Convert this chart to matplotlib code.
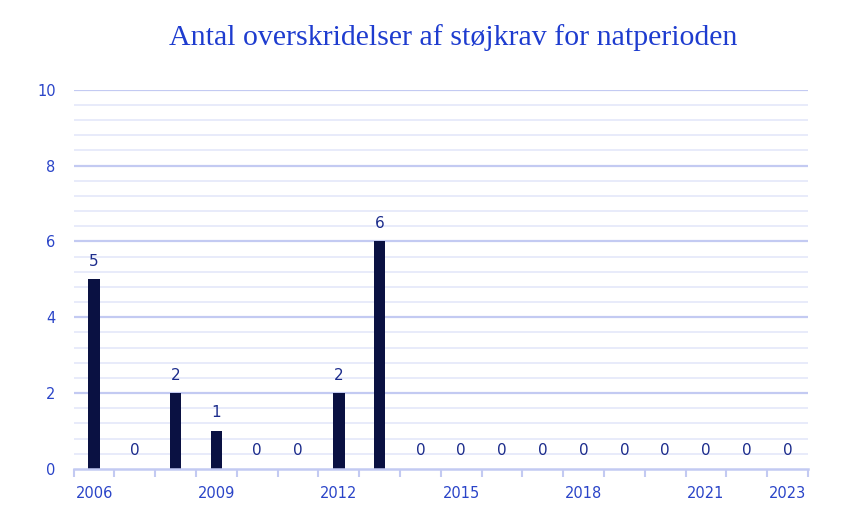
import matplotlib
matplotlib.use("Agg")
import matplotlib.pyplot as plt
import numpy as np

years = list(range(2006, 2024))
values = [5, 0, 2, 1, 0, 0, 2, 6, 0, 0, 0, 0, 0, 0, 0, 0, 0, 0]
shown_years = [2006, 2009, 2012, 2015, 2018, 2021, 2023]
title = "Antal overskridelser af støjkrav for natperioden"

fig = plt.figure(figsize=(8.67, 5.29), dpi=100)
ax = fig.add_axes([0.085, 0.1134, 0.847, 0.717])

x = np.arange(len(years))
ax.bar(x, values, width=0.28, color="#0a1142", zorder=3)
for xi, v in zip(x, values):
    ax.text(xi, v + 0.28, str(v), ha="center", va="bottom", fontsize=11,
            color="#1c2c8c", family="DejaVu Sans")

ax.set_xlim(-0.5, len(years) - 0.5)
ax.set_ylim(0, 10)

# gridlines
for yv in np.arange(0.4, 10.01, 0.4):
    major = abs(yv / 2 - round(yv / 2)) < 1e-6
    ax.axhline(yv, color="#c3caf2" if major else "#e6e9fa", lw=1.6 if major else 1.3, zorder=1)

ax.set_yticks([0, 2, 4, 6, 8, 10])
ax.tick_params(axis="y", length=0, pad=13, labelsize=10.5, labelcolor="#2a44c8")

pos = [years.index(y) for y in shown_years]
ax.set_xticks(pos)
ax.set_xticklabels([str(y) for y in shown_years])
ax.tick_params(axis="x", which="major", length=0, pad=12, labelsize=10.5, labelcolor="#2a44c8")
ax.set_xticks(np.arange(-0.5, len(years)), minor=True)
ax.tick_params(axis="x", which="minor", length=6, width=1.5, color="#c3caf2")

for s in ["top", "right", "left"]:
    ax.spines[s].set_visible(False)
ax.spines["bottom"].set_color("#c3caf2")
ax.spines["bottom"].set_linewidth(1.8)
ax.spines["bottom"].set_zorder(4)

fig.text(0.523, 0.93, title, ha="center", va="center", fontsize=21.5,
         color="#1e3ccf", family="Liberation Serif")

fig.savefig("out.png", dpi=100)
